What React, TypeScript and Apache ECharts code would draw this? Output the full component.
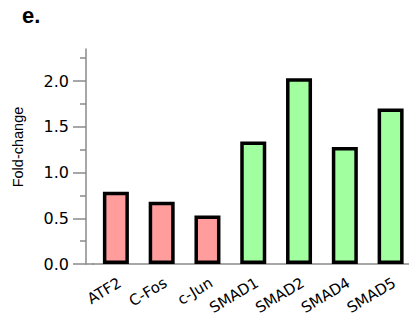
import React, { useEffect, useRef } from "react";
import * as echarts from "echarts";

const categories = ["ATF2", "C-Fos", "c-Jun", "SMAD1", "SMAD2", "SMAD4", "SMAD5"];
const values = [0.79, 0.68, 0.53, 1.34, 2.03, 1.28, 1.70];
const groups = ["AP1", "AP1", "AP1", "SMAD", "SMAD", "SMAD", "SMAD"];
const majorTicks = [0, 0.5, 1.0, 1.5, 2.0];
const minorTicks = [0.25, 0.75, 1.25, 1.75, 2.25];
const panelLabel = "e.";
const yTitle = "Fold-change";

const groupColors: Record<string, string> = { AP1: "#FF9C9C", SMAD: "#A2FFA0" };

export default function App() {
  const ref = useRef<HTMLDivElement>(null);
  useEffect(() => {
    if (!ref.current) return;
    const chart = echarts.init(ref.current, null, { renderer: "svg" });
    const axisColor = "#8a8a8a";
    const font = "DejaVu Sans";
    chart.setOption({
      animation: false,
      grid: { left: 93, right: 3.5, top: 49, bottom: 57, containLabel: false },
      graphic: [
        {
          type: "text",
          left: 22,
          top: 4,
          style: { text: panelLabel, font: "bold 22px 'Liberation Sans', Arial, sans-serif", fill: "#000" },
        },
        {
          type: "text",
          x: 18,
          y: 147,
          rotation: Math.PI / 2,
          style: {
            text: yTitle,
            font: "14.5px 'Liberation Sans', Arial, sans-serif",
            fill: "#000",
            align: "center",
            verticalAlign: "middle",
          },
        },
        {
          type: "line",
          shape: { x1: 86, y1: 264, x2: 94, y2: 264 },
          style: { stroke: axisColor, lineWidth: 1.5 },
        },
      ],
      xAxis: {
        type: "category",
        data: categories,
        axisLine: { lineStyle: { color: axisColor, width: 1.5 } },
        axisTick: { alignWithLabel: true, length: 8, lineStyle: { color: axisColor, width: 1.5 } },
        axisLabel: {
          interval: 0,
          rotate: 31,
          margin: 11,
          align: "right",
          verticalAlign: "top",
          color: "#000",
          fontSize: 15,
          fontFamily: font,
        },
      },
      yAxis: [
        {
          type: "value",
          min: 0,
          max: 2.35,
          offset: 7,
          splitLine: { show: false },
          axisLine: { show: true, lineStyle: { color: axisColor, width: 1.5 } },
          axisTick: { show: true, length: 13, customValues: majorTicks, lineStyle: { color: axisColor, width: 1.5 } },
          axisLabel: {
            customValues: majorTicks,
            margin: 17,
            color: "#000",
            fontSize: 16,
            fontFamily: font,
            formatter: (v: number) => v.toFixed(1),
          },
        },
        {
          type: "value",
          min: 0,
          max: 2.35,
          offset: 7,
          position: "left",
          splitLine: { show: false },
          axisLine: { show: false },
          axisTick: { show: true, length: 6, customValues: minorTicks, lineStyle: { color: axisColor, width: 1.5 } },
          axisLabel: { show: false },
        },
      ],
      series: [
        {
          type: "bar",
          yAxisIndex: 0,
          barWidth: 26,
          data: values.map((v, i) => ({
            value: v,
            itemStyle: { color: groupColors[groups[i]], borderColor: "#000", borderWidth: 3.5 },
          })),
        },
      ],
    });
    return () => chart.dispose();
  }, []);
  return <div ref={ref} style={{ width: 417, height: 321, margin: -8 }} />;
}
